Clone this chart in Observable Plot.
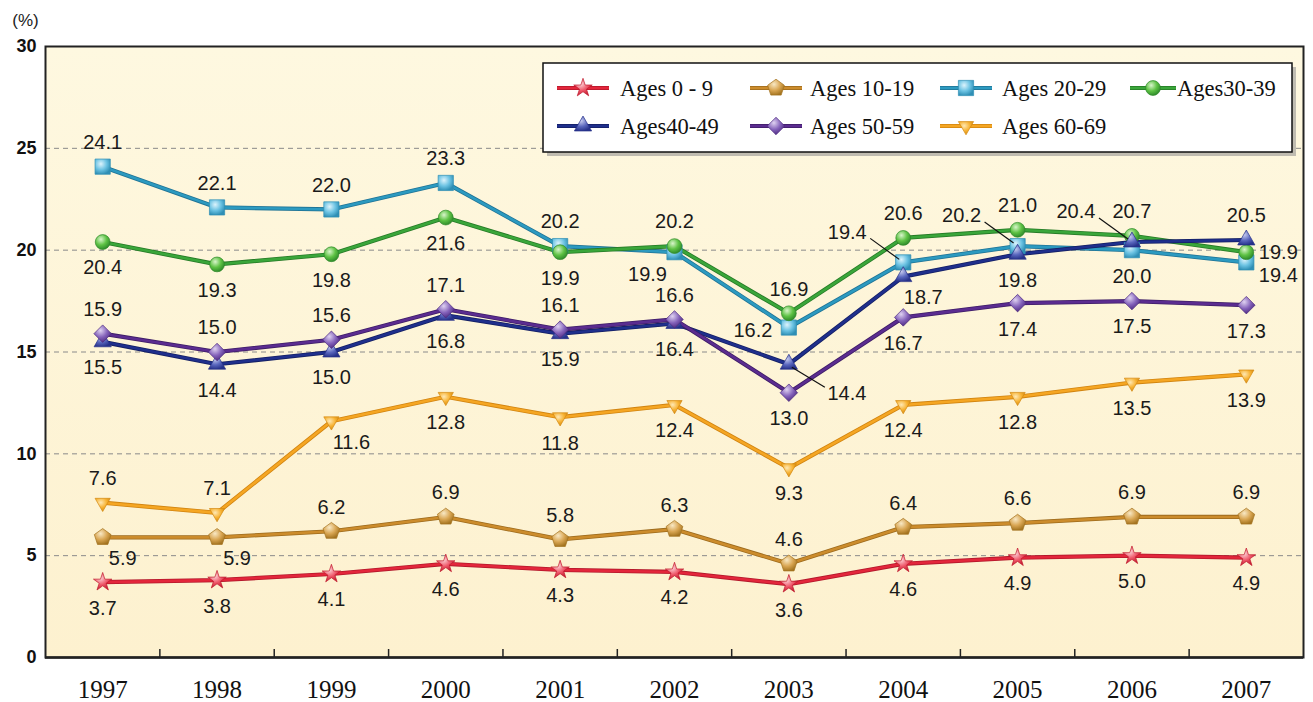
<!DOCTYPE html>
<html>
<head>
<meta charset="utf-8">
<script src="https://cdn.jsdelivr.net/npm/d3@7"></script>
<script src="https://cdn.jsdelivr.net/npm/@observablehq/plot@0.6"></script>
<style>
  html, body { margin: 0; padding: 0; background: #fff; }
  #chart { position: relative; width: 1313px; height: 702px; }
</style>
</head>
<body>
<div id="chart"></div>
<script>
// ---------------- DATA ----------------
const years = [1997, 1998, 1999, 2000, 2001, 2002, 2003, 2004, 2005, 2006, 2007];
const seriesNames = ["Ages 0 - 9", "Ages 10-19", "Ages 20-29", "Ages30-39", "Ages40-49", "Ages 50-59", "Ages 60-69"];
const ages0to9   = [3.7, 3.8, 4.1, 4.6, 4.3, 4.2, 3.6, 4.6, 4.9, 5.0, 4.9];
const ages10to19 = [5.9, 5.9, 6.2, 6.9, 5.8, 6.3, 4.6, 6.4, 6.6, 6.9, 6.9];
const ages20to29 = [24.1, 22.1, 22.0, 23.3, 20.2, 19.9, 16.2, 19.4, 20.2, 20.0, 19.4];
const ages30to39 = [20.4, 19.3, 19.8, 21.6, 19.9, 20.2, 16.9, 20.6, 21.0, 20.7, 19.9];
const ages40to49 = [15.5, 14.4, 15.0, 16.8, 15.9, 16.4, 14.4, 18.7, 19.8, 20.4, 20.5];
const ages50to59 = [15.9, 15.0, 15.6, 17.1, 16.1, 16.6, 13.0, 16.7, 17.4, 17.5, 17.3];
const ages60to69 = [7.6, 7.1, 11.6, 12.8, 11.8, 12.4, 9.3, 12.4, 12.8, 13.5, 13.9];
const yTicks = [0, 5, 10, 15, 20, 25, 30];
const yUnit = "(%)";

// value-label placement codes (a=above, b=below, br/bl=below right/left, l/r=left/right,
// rb=right-below, ul=upper-left with leader, lr=lower-right with leader)
const place0to9   = ["b","b","b","b","b","b","b","b","b","b","b"];
const place10to19 = ["br","br","a","a","a","a","a","a","a","a","a"];
const place20to29 = ["a","a","a","a","a","bl","l","ul","ul","b","rb"];
const place30to39 = ["b","b","b","b","b","a","a","a","a","a","r"];
const place40to49 = ["b","b","b","b","b","b","lr","br","b","ul","a"];
const place50to59 = ["a","a","a","a","a","a","b","b","b","b","b"];
const place60to69 = ["a","a","br","b","b","b","b","b","b","b","b"];

// ---------------- STYLE ----------------
const W = 1313, H = 702;
const M = {left: 45, right: 10, top: 46, bottom: 45};
const innerW = W - M.left - M.right, innerH = H - M.top - M.bottom;
const xDomain = [d3.min(years) - 0.5, d3.max(years) + 0.5];
const yDomain = [d3.min(yTicks), d3.max(yTicks)];
const kx = innerW / (xDomain[1] - xDomain[0]);
const ky = innerH / (yDomain[1] - yDomain[0]);
const SANS = "'Liberation Sans', Arial, sans-serif";
const SERIF = "'Liberation Serif', 'Times New Roman', 'DejaVu Serif', serif";

// custom symbols
const pentagon = {
  draw(ctx, size) {
    const R = Math.sqrt(size / Math.PI);
    for (let k = 0; k < 5; k++) {
      const a = -Math.PI / 2 + k * 2 * Math.PI / 5;
      const px = R * Math.cos(a), py = R * Math.sin(a);
      if (k === 0) ctx.moveTo(px, py); else ctx.lineTo(px, py);
    }
    ctx.closePath();
  }
};
const triangleDown = {
  draw(ctx, size) {
    const R = Math.sqrt(size / Math.PI);
    ctx.moveTo(0, R);
    ctx.lineTo(-R * Math.sin(Math.PI / 3), -R / 2);
    ctx.lineTo(R * Math.sin(Math.PI / 3), -R / 2);
    ctx.closePath();
  }
};

const styles = [
  {line: "#e3263b", edge: "#b3182b", light: "#fdd6da", base: "#ee5668", dark: "#c01a2e", symbol: d3.symbolStar,     r: 5.8},
  {line: "#cc8c2c", edge: "#9c6a1c", light: "#f8e8c4", base: "#d9a653", dark: "#a3731f", symbol: pentagon,          r: 8.8},
  {line: "#2c9ac0", edge: "#1f7395", light: "#dcf3fc", base: "#6cc3e3", dark: "#2f8fb5", symbol: d3.symbolSquare,   r: 8.6},
  {line: "#3aa63a", edge: "#267a26", light: "#d8f4ca", base: "#5ec244", dark: "#2e8a2a", symbol: d3.symbolCircle,   r: 7.4},
  {line: "#1f2f8c", edge: "#141f63", light: "#c8cdf0", base: "#5a67be", dark: "#26318a", symbol: d3.symbolTriangle, r: 6.4},
  {line: "#5b2c90", edge: "#3e1d66", light: "#dfd2f1", base: "#8462ba", dark: "#4d2a80", symbol: d3.symbolDiamond2, r: 7.9},
  {line: "#f5a623", edge: "#d18410", light: "#fee8b4", base: "#f7b232", dark: "#d48a12", symbol: triangleDown,      r: 8.8}
];

const offsets = {
  a: [0, -24], b: [0, 26], br: [20, 21], bl: [-27, 22], l: [-36, 3],
  r: [32, 0], rb: [32, 13], ul: [-56, -30], lr: [58, 29]
};
const leaderEnds = { ul: [[-33, -24], [-4, -3]], lr: [[3, 3], [36, 23]] };

// ---------------- BUILD ROWS ----------------
const valueArrays = [ages0to9, ages10to19, ages20to29, ages30to39, ages40to49, ages50to59, ages60to69];
const placeArrays = [place0to9, place10to19, place20to29, place30to39, place40to49, place50to59, place60to69];
const series = seriesNames.map((name, i) => ({
  name, i,
  rows: years.map((year, j) => ({series: name, i, year, value: valueArrays[i][j], place: placeArrays[i][j]}))
}));
const allRows = series.flatMap(s => s.rows);
const fmt = d3.format(".1f");

const marks = [];
marks.push(Plot.frame({fill: "url(#bgGrad)"}));
marks.push(Plot.gridY(yTicks.filter(t => t > yDomain[0] && t < yDomain[1]), {stroke: "#8a8a8a", strokeOpacity: 1, strokeDasharray: "5,4", strokeWidth: 1}));
const boundaries = years.slice(0, -1).map(y => y + 0.5);
marks.push(Plot.ruleX(boundaries, {x: d => d, insetTop: innerH - 8, stroke: "#222", strokeWidth: 1.5}));
marks.push(Plot.axisY({ticks: yTicks, tickSize: 0, tickPadding: 9, label: null, fontSize: 18, fontWeight: "bold", fontFamily: SANS}));
marks.push(Plot.axisX({ticks: years, tickSize: 0, tickPadding: 23, tickFormat: d => String(d), label: null, fontSize: 25, fontFamily: SERIF}));

series.forEach(s => {
  const st = styles[s.i];
  marks.push(Plot.line(s.rows, {x: "year", y: "value", stroke: st.edge, strokeWidth: 4.2}));
  marks.push(Plot.line(s.rows, {x: "year", y: "value", stroke: st.line, strokeWidth: 2.6}));
});
series.forEach(s => {
  const st = styles[s.i];
  marks.push(Plot.dot(s.rows, {x: "year", y: "value", symbol: st.symbol, r: st.r, fill: `url(#mk${s.i})`, stroke: st.dark, strokeWidth: 0.7}));
});

// leader lines
const leaderRows = allRows.filter(d => leaderEnds[d.place]);
marks.push(Plot.link(leaderRows, {
  x1: d => d.year + leaderEnds[d.place][0][0] / kx,
  y1: d => d.value - leaderEnds[d.place][0][1] / ky,
  x2: d => d.year + leaderEnds[d.place][1][0] / kx,
  y2: d => d.value - leaderEnds[d.place][1][1] / ky,
  stroke: "#111", strokeWidth: 1.2
}));

// value labels
Object.entries(offsets).forEach(([code, [dx, dy]]) => {
  const rows = allRows.filter(d => d.place === code);
  if (!rows.length) return;
  marks.push(Plot.text(rows, {x: "year", y: "value", text: d => fmt(d.value), dx, dy, fontSize: 20, fill: "#1a1a1a", fontFamily: SANS}));
});

marks.push(Plot.ruleY([yDomain[0]], {stroke: "#222", strokeWidth: 2.5}));
marks.push(Plot.frame({stroke: "#222", strokeWidth: 2}));
marks.push(Plot.text([yUnit], {frameAnchor: "top-left", dx: -20, dy: -26, textAnchor: "middle", lineAnchor: "middle", fontSize: 17, fill: "#222", fontFamily: SANS}));

const plot = Plot.plot({
  width: W, height: H,
  marginLeft: M.left, marginRight: M.right, marginTop: M.top, marginBottom: M.bottom,
  x: {type: "linear", domain: xDomain},
  y: {domain: yDomain},
  style: {background: "#fff", color: "#111", fontFamily: SANS, fontSize: "18px", overflow: "visible"},
  marks
});
document.getElementById("chart").appendChild(plot);

// ---------------- DEFS (gradients) ----------------
const svg = d3.select(plot);
svg.selectAll('g[aria-label="x-axis tick label"] text').style("font-family", SERIF);
const defs = svg.insert("defs", ":first-child");
const bg = defs.append("linearGradient").attr("id", "bgGrad").attr("x1", 0).attr("y1", 0).attr("x2", 0).attr("y2", 1);
bg.append("stop").attr("offset", "0%").attr("stop-color", "#fef8e0");
bg.append("stop").attr("offset", "100%").attr("stop-color", "#fdf1cf");
styles.forEach((st, i) => {
  const g = defs.append("radialGradient").attr("id", `mk${i}`).attr("cx", "38%").attr("cy", "32%").attr("r", "70%");
  g.append("stop").attr("offset", "0%").attr("stop-color", st.light);
  g.append("stop").attr("offset", "55%").attr("stop-color", st.base);
  g.append("stop").attr("offset", "100%").attr("stop-color", st.dark);
});

// ---------------- LEGEND ----------------
const lg = svg.append("g").attr("class", "legend");
const box = {x: 543, y: 63, w: 749, h: 89};
lg.append("rect").attr("x", box.x + 4).attr("y", box.y + 4).attr("width", box.w).attr("height", box.h).attr("fill", "#8d8d8d").attr("opacity", 0.55);
lg.append("rect").attr("x", box.x).attr("y", box.y).attr("width", box.w).attr("height", box.h).attr("fill", "#fff").attr("stroke", "#111").attr("stroke-width", 1.5);
const cols = [{lx: 557, len: 52, tx: 620}, {lx: 750, len: 52, tx: 810}, {lx: 940, len: 52, tx: 1002}, {lx: 1130, len: 46, tx: 1177}];
const rowsY = [88, 126];
seriesNames.forEach((name, i) => {
  const st = styles[i];
  const c = cols[i % 4], yy = rowsY[Math.floor(i / 4)];
  lg.append("line").attr("x1", c.lx).attr("x2", c.lx + c.len).attr("y1", yy).attr("y2", yy).attr("stroke", st.edge).attr("stroke-width", 4.2);
  lg.append("line").attr("x1", c.lx).attr("x2", c.lx + c.len).attr("y1", yy).attr("y2", yy).attr("stroke", st.line).attr("stroke-width", 2.6);
  lg.append("path").attr("transform", `translate(${c.lx + c.len / 2},${yy})`)
    .attr("d", d3.symbol(st.symbol, Math.PI * st.r * st.r)())
    .attr("fill", `url(#mk${i})`).attr("stroke", st.dark).attr("stroke-width", 0.7);
  lg.append("text").attr("x", c.tx).attr("y", yy).attr("dy", "0.35em")
    .attr("text-anchor", "start")
    .style("text-anchor", "start")
    .style("font-family", SERIF).style("font-size", "22.5px")
    .attr("fill", "#111").text(name);
});
</script>
</body>
</html>
